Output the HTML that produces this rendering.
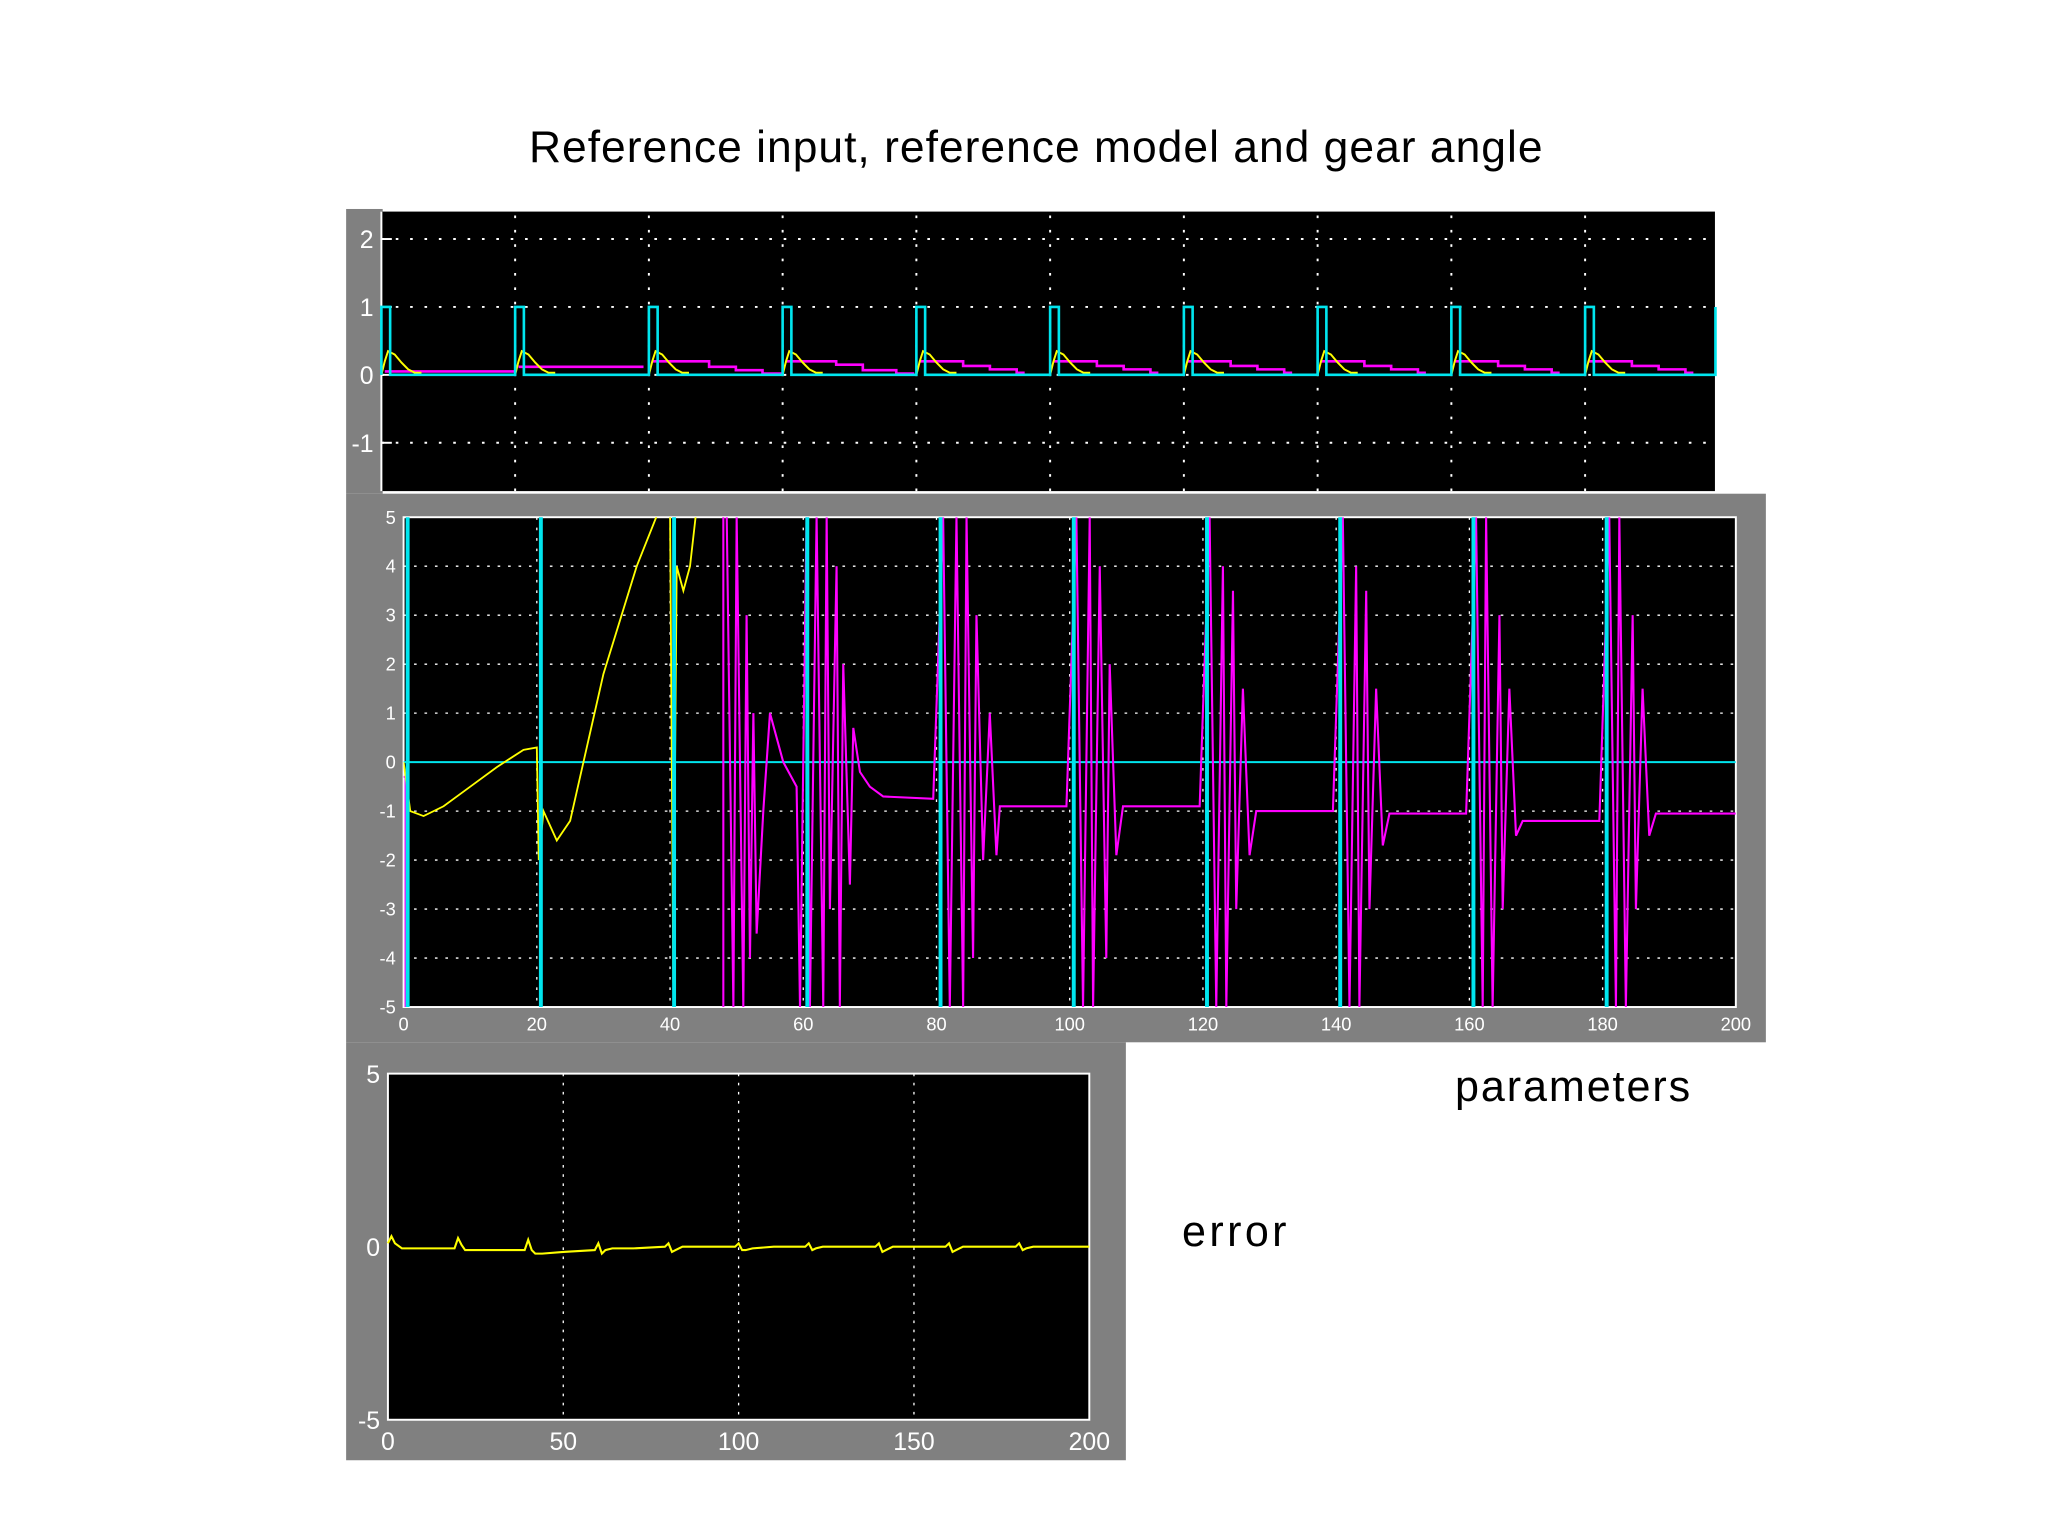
<!DOCTYPE html>
<html><head><meta charset="utf-8"><style>
html,body{margin:0;padding:0;background:#fff;}
svg{display:block;}
</style></head><body>
<svg id="fig" width="2048" height="1536" viewBox="0 0 1568 1176" xmlns="http://www.w3.org/2000/svg" font-family="Liberation Sans, sans-serif">
<rect width="1568" height="1176" fill="#fff"/>
<text x="793" y="124" font-size="34" text-anchor="middle" fill="#000" textLength="776">Reference input, reference model and gear angle</text>
<rect x="265" y="160" width="28" height="218" fill="#808080"/>
<rect x="292" y="162" width="1021" height="214" fill="#000"/>
<g id="top"></g>
<rect x="265" y="378" width="1087" height="420" fill="#808080"/>
<rect x="309" y="396" width="1020" height="375" fill="#000" stroke="#fff" stroke-width="1.5"/>
<g id="mid"></g>
<rect x="265" y="798" width="597" height="320" fill="#808080"/>
<rect x="297" y="822" width="537" height="265" fill="#000" stroke="#fff" stroke-width="1.5"/>
<g id="bot"></g>
<text x="1114" y="843" font-size="33" fill="#000" textLength="180">parameters</text>
<text x="905" y="954" font-size="33" fill="#000" textLength="80">error</text>
</svg>
<script>
// ---- data ----
const pulseStarts = [0,20,40,60,80,100,120,140,160,180];
const pulseWidth = 1.3;
const topYTicks = [2,1,0,-1];
const topXGrid = [20,40,60,80,100,120,140,160,180];
const refShapeT = [0,0.5,1,2,3,4,5,6];
const refShapeV = [0,0.2,0.35,0.3,0.18,0.08,0.03,0.03];
const stairT = [[0.5,20],[20.5,39],[40.5,47,49,53,57,60],[60.5,64,68,72,77,79.5]];
const stairV = [[0.05,0.05],[0.12,0.1],[0.2,0.2,0.12,0.07,0.02,0.02],[0.2,0.2,0.15,0.07,0.02,0.0]];
const stairLaterT = [0.5,4,7,11,15,16];
const stairLaterV = [0.2,0.2,0.13,0.08,0.03,0.0];

const midYTicks = [5,4,3,2,1,0,-1,-2,-3,-4,-5];
const midXTicks = [0,20,40,60,80,100,120,140,160,180,200];
const yelT = [0,0.5,1,3,6,10,14,18,20,20.3,21,23,25,30,35,38.5,40,40.5,41,42,43,44];
const yelV = [0,-0.5,-1,-1.1,-0.9,-0.5,-0.1,0.25,0.3,-2,-1,-1.6,-1.2,1.8,4.0,5.2,5.2,-4.5,4,3.5,4,5.2];
const magT = [0,0.3,0.3,0.35,48,48,48.5,49.5,50,51,51.5,52,52.5,53,54,55,57,59,59.5,
 60.5,61,62,63,63.5,64,65,65.5,66,67,67.5,68.5,70,72,79.5,
 81,82,83,84,84.5,85.5,86,87,88,89,89.5,99.5,
 101,102,103,103.5,104.5,105.5,106,107,108,119.5,
 121,122,123,123.5,124.5,125,126,127,128,139.5,
 141,142,143,143.5,144.5,145,146,147,148,159.5,
 161,162,162.5,163.5,164.5,165,166,167,168,179.5,
 181,182,182.5,183.5,184.5,185,186,187,188,200];
const magV = [-0.3,-0.3,-5,-6,-6,6,5,-5,5,-5,3,-4,1,-3.5,-1,1,0,-0.5,-5,
 5,-5,5,-5,5,-3,4,-5,2,-2.5,0.7,-0.2,-0.5,-0.7,-0.75,
 5,-5,5,-5,5,-4,3,-2,1,-1.9,-0.9,-0.9,
 5,-5,5,-5,4,-4,2,-1.9,-0.9,-0.9,
 5,-5,4,-5,3.5,-3,1.5,-1.9,-1.0,-1.0,
 5,-5,4,-5,3.5,-3,1.5,-1.7,-1.05,-1.05,
 5,-5,5,-5,3,-3,1.5,-1.5,-1.2,-1.2,
 5,-5,5,-5,3,-3,1.5,-1.5,-1.05,-1.05];

const botYTicks = [5,0,-5];
const botXTicks = [0,50,100,150,200];
const errT = [0,1,2,4,10,19,20,21,22,24,30,39,40,41,42,44,50,59,60,61,62,64,70,79,80,81,82,84,90,99,100,101,102,104,110,119,120,121,122,124,130,139,140,141,142,144,150,159,160,161,162,164,170,179,180,181,182,184,190,200];
const errV = [0.1,0.3,0.1,-0.05,-0.05,-0.05,0.25,0.05,-0.1,-0.1,-0.1,-0.1,0.2,-0.1,-0.2,-0.2,-0.15,-0.1,0.1,-0.2,-0.1,-0.05,-0.05,0,0.1,-0.15,-0.1,0,0,0,0.1,-0.1,-0.1,-0.05,0,0,0.1,-0.1,-0.05,0,0,0,0.1,-0.15,-0.1,0,0,0,0.1,-0.15,-0.1,0,0,0,0.1,-0.1,-0.05,0,0,0];

// ---- helpers ----
const NS='http://www.w3.org/2000/svg';
function mk(parent,tag,attrs){const e=document.createElementNS(NS,tag);for(const k in attrs)e.setAttribute(k,attrs[k]);parent.appendChild(e);return e;}
function lin(d0,d1,r0,r1){return v=>r0+(v-d0)*(r1-r0)/(d1-d0);}
function poly(g,xs,ys,X,Y,color,w,name){
  const pts=xs.map((t,i)=>X(t).toFixed(1)+','+Y(Math.max(-6,Math.min(6,ys[i]))).toFixed(1)).join(' ');
  const p=mk(g,'polyline',{points:pts,fill:'none',stroke:color,'stroke-width':w});
  
  
  return p;
}

// ---- top panel ----
(function(){
  const g=document.getElementById('top');
  const X=lin(0,200,292,1316), Y=lin(0,1,287,235);
  topYTicks.forEach(v=>{
    const l=mk(g,'line',{x1:292,x2:1313,y1:Y(v),y2:Y(v),stroke:'#fff','stroke-width':1.5,'stroke-dasharray':'2 9'});
    
    
    const t=mk(g,'text',{x:286,y:Y(v)+7,'font-size':19,fill:'#fff','text-anchor':'end'});t.textContent=v;
    
    
    mk(g,'line',{x1:292,x2:300,y1:Y(v),y2:Y(v),stroke:'#fff','stroke-width':1.5});
  });
  topXGrid.forEach(v=>{
    const l=mk(g,'line',{x1:X(v),x2:X(v),y1:165,y2:376,stroke:'#fff','stroke-width':1.5,'stroke-dasharray':'2 9'});
    
    
  });
  mk(g,'line',{x1:292,x2:292,y1:162,y2:376,stroke:'#fff','stroke-width':1.5});
  pulseStarts.forEach((s,k)=>{
    const ts=k<stairT.length?stairT[k]:stairLaterT.map(t=>t+s);
    const vs=k<stairV.length?stairV[k]:stairLaterV;
    const sx=[],sy=[];
    ts.forEach((t,i)=>{ if(i>0){sx.push(t);sy.push(vs[i-1]);} sx.push(t);sy.push(vs[i]); });
    poly(g,sx,sy,X,Y,'#ff00ff',2,'top-model-series');
  });
  pulseStarts.forEach(s=>{
    poly(g,refShapeT.map(t=>t+s),refShapeV,X,Y,'#ffff00',1.5,'top-reference-model-series');
  });
  const cx=[],cy=[];
  pulseStarts.forEach(s=>{cx.push(s,s,s+pulseWidth,s+pulseWidth);cy.push(0,1,1,0);});
  cx.push(199.5,199.5);cy.push(0,1);
  poly(g,cx,cy,X,Y,'#00e5ee',2,'top-reference-input-series');
})();

// ---- middle panel ----
(function(){
  const g=document.getElementById('mid');
  const X=lin(0,200,309,1329), Y=lin(-5,5,771,396);
  midYTicks.forEach(v=>{
    if(v!==5&&v!==-5){
      const l=mk(g,'line',{x1:309,x2:1329,y1:Y(v),y2:Y(v),stroke:'#fff','stroke-width':1,'stroke-dasharray':'2 6'});
      
      
    }
    const t=mk(g,'text',{x:303,y:Y(v)+5,'font-size':14,fill:'#fff','text-anchor':'end'});t.textContent=v;
    
    
  });
  midXTicks.forEach(v=>{
    if(v>0&&v<200){
      const l=mk(g,'line',{x1:X(v),x2:X(v),y1:396,y2:771,stroke:'#fff','stroke-width':1,'stroke-dasharray':'2 6'});
      
      
    }
    const t=mk(g,'text',{x:X(v),y:789,'font-size':14,fill:'#fff','text-anchor':'middle'});t.textContent=v;
    
    
  });
  const cl=document.createElementNS(NS,'clipPath');cl.id='mc';mk(cl,'rect',{x:309,y:396,width:1020,height:375});g.appendChild(cl);
  const gg=mk(g,'g',{'clip-path':'url(#mc)'});
  poly(gg,[0,200],[0,0],X,Y,'#00e5ee',1.5,'mid-zero-line');
  poly(gg,magT,magV,X,Y,'#ff00ff',1.6,'mid-parameter-series-magenta');
  poly(gg,yelT,yelV,X,Y,'#ffff00',1.4,'mid-parameter-series-yellow');
  pulseStarts.forEach(s=>{
    poly(gg,[s+0.6,s+0.6],[-5.3,5.3],X,Y,'#00e5ee',3,'mid-parameter-series-cyan');
  });
})();

// ---- bottom panel ----
(function(){
  const g=document.getElementById('bot');
  const X=lin(0,200,297,834), Y=lin(-5,5,1087,822);
  botYTicks.forEach(v=>{
    const t=mk(g,'text',{x:291,y:Y(v)+7,'font-size':19,fill:'#fff','text-anchor':'end'});t.textContent=v;
    
    
  });
  botXTicks.forEach(v=>{
    if(v>0&&v<200){
      const l=mk(g,'line',{x1:X(v),x2:X(v),y1:822,y2:1087,stroke:'#fff','stroke-width':1,'stroke-dasharray':'2 5'});
      
      
    }
    const t=mk(g,'text',{x:X(v),y:1110,'font-size':19,fill:'#fff','text-anchor':'middle'});t.textContent=v;
    
    
  });
  poly(g,errT,errV,X,Y,'#ffff00',1.6,'error-series');
})();
</script>
</body></html>
